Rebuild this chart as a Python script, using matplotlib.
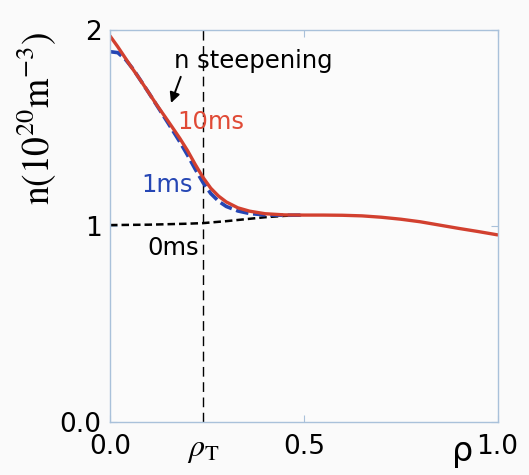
import matplotlib
matplotlib.use("Agg")
import matplotlib.pyplot as plt

# density profiles n(rho) at three times
rho_10ms = [0.00, 0.02, 0.05, 0.08, 0.10, 0.12, 0.15, 0.18, 0.20, 0.22, 0.24,
            0.26, 0.28, 0.30, 0.33, 0.36, 0.40, 0.45, 0.50, 0.55, 0.60, 0.65,
            0.70, 0.75, 0.80, 0.85, 0.90, 0.95, 1.00]
n_10ms = [1.97, 1.915, 1.826, 1.74, 1.68, 1.62, 1.535, 1.448, 1.385, 1.314, 1.248,
          1.193, 1.153, 1.123, 1.093, 1.076, 1.063, 1.057, 1.056, 1.056, 1.055, 1.052,
          1.045, 1.035, 1.022, 1.005, 0.988, 0.972, 0.955]

rho_1ms = [0.00, 0.02, 0.04, 0.06, 0.08, 0.10, 0.15, 0.18, 0.20, 0.22, 0.24,
           0.26, 0.28, 0.30, 0.33, 0.36, 0.40, 0.45, 0.50]
n_1ms = [1.89, 1.885, 1.85, 1.80, 1.74, 1.68, 1.525, 1.43, 1.362, 1.29, 1.222,
         1.166, 1.127, 1.1, 1.077, 1.064, 1.057, 1.055, 1.056]

rho_0ms = [0.00, 0.10, 0.20, 0.24, 0.30, 0.35, 0.40, 0.45, 0.50]
n_0ms = [1.005, 1.007, 1.012, 1.015, 1.025, 1.035, 1.045, 1.052, 1.056]

rho_T = 0.24

x_ticks = [0.0, rho_T, 0.5, 1.0]
x_labels = ["0.0", r"$\rho_{\mathrm{T}}$", "0.5", "1.0"]
y_ticks = [0, 1, 2]
y_labels = ["0.0", "1", "2"]

plt.rcParams["mathtext.fontset"] = "stix"

fig = plt.figure(figsize=(5.29, 4.75), dpi=100, facecolor="#fafafa")
ax = fig.add_axes([0.208, 0.1116, 0.7325, 0.825])
ax.set_facecolor("#fbfbfb")

red = "#d2402f"
blue = "#2546b4"
spine = "#a9c1da"

ax.axvline(rho_T, color="k", lw=1.0, dashes=(7, 4))
ax.plot(rho_0ms, n_0ms, color="k", lw=1.8, dashes=(3, 1.6))
ax.plot(rho_1ms, n_1ms, color=blue, lw=2.6, dashes=(3.5, 1.3))
ax.plot(rho_10ms, n_10ms, color=red, lw=2.4, solid_capstyle="round")

ax.set_xlim(0, 1)
ax.set_ylim(0, 2)

ax.set_xticks(x_ticks)
ax.set_xticklabels(x_labels)
ax.set_yticks(y_ticks)
ax.set_yticklabels(y_labels)
ax.tick_params(direction="in", length=5, color=spine, labelsize=19,
               top=True, right=True)
ax.tick_params(axis="x", pad=9)
ax.tick_params(axis="y", pad=6)
ax.get_xticklabels()[1].set_fontsize(23)
for s in ax.spines.values():
    s.set_color(spine)
    s.set_linewidth(1.0)

# rho symbol ahead of the last tick label
fig.text(0.874, 0.05, "ρ", fontsize=24, ha="center", va="center")

fig.text(0.07, 0.75, r"$\mathrm{n(10^{20}m^{-3})}$", fontsize=27,
         rotation=90, ha="center", va="center")

ax.text(0.166, 1.84, "n steepening", fontsize=17.5, ha="left", va="center")
ax.annotate("", xy=(0.155, 1.615), xytext=(0.185, 1.775),
            arrowprops=dict(arrowstyle="-|>", color="k", lw=1.4,
                            mutation_scale=15))
ax.text(0.174, 1.53, "10ms", fontsize=17.5, color="#e04a36", ha="left", va="center")
ax.text(0.08, 1.21, "1ms", fontsize=17.5, color=blue, ha="left", va="center")
ax.text(0.096, 0.89, "0ms", fontsize=17.5, color="k", ha="left", va="center")

fig.savefig("out.png", dpi=100, facecolor=fig.get_facecolor())
